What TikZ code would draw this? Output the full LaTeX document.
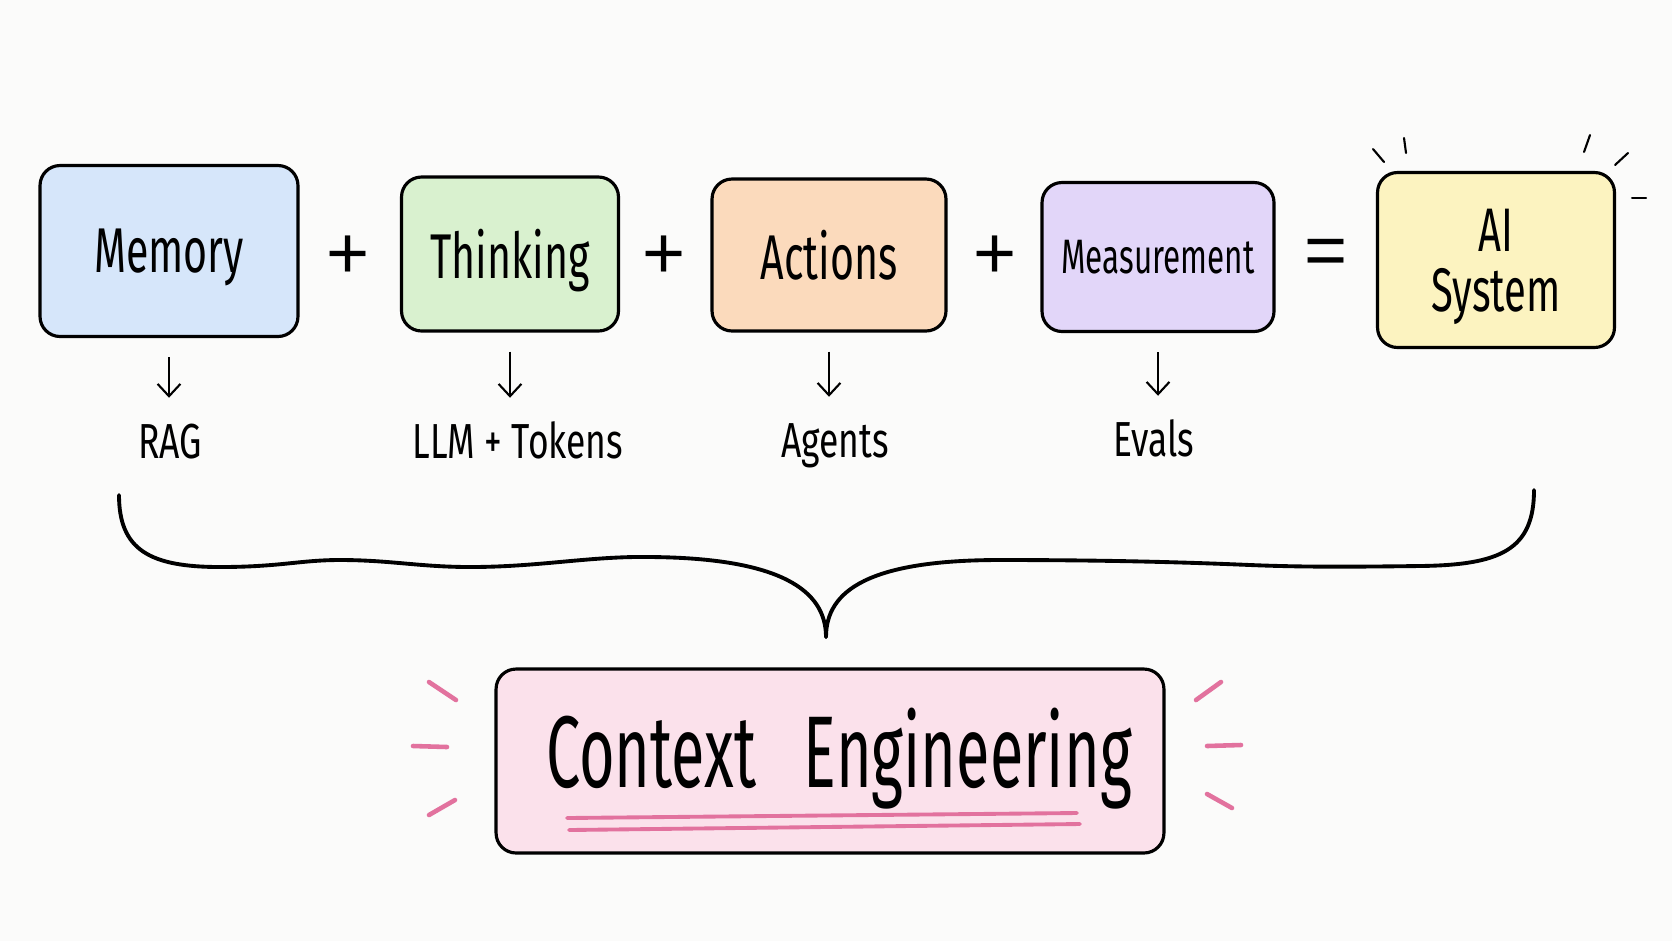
\documentclass[tikz,border=0pt]{standalone}
\usepackage{fontspec}
\setmainfont{Fira Sans}[FakeStretch=0.65]
\newfontfamily\signfont{Liberation Sans}
\usetikzlibrary{arrows.meta}

\definecolor{paper}{RGB}{251,251,250}
\definecolor{memfill}{RGB}{214,230,250}
\definecolor{thinkfill}{RGB}{217,241,207}
\definecolor{actfill}{RGB}{251,218,188}
\definecolor{measfill}{RGB}{226,214,249}
\definecolor{aifill}{RGB}{252,243,192}
\definecolor{ctxfill}{RGB}{251,225,235}
\definecolor{accent}{RGB}{226,114,158}

\tikzset{
  part/.style={draw=black, line width=1.8pt, rounded corners=0.4cm, inner sep=0pt, align=center, text depth=0pt},
  sign/.style={font=\signfont\fontsize{42}{42}\selectfont, inner sep=0pt},
  result/.style={font=\addfontfeature{FakeStretch=0.72}\fontsize{28}{28}\selectfont, text height=21pt, text depth=7pt, inner sep=0pt, anchor=base},
  flow/.style={line width=1.2pt, -{Straight Barb[length=7pt,width=13pt]}, shorten <=0.38cm, shorten >=0.46cm},
  spark/.style={line width=1.2pt, line cap=round},
  pinkspark/.style={draw=accent, line width=2.6pt, line cap=round},
}

\begin{document}
\begin{tikzpicture}[x=0.02cm, y=-0.02cm]
    \fill[paper] (0,0) rectangle (1672,941);

    % the parts
    \node[part, fill=memfill, minimum width=5.16cm, minimum height=3.42cm, font=\fontsize{36}{36}\selectfont] (memory) at (169,251) {Memory};
    \node[part, fill=thinkfill, minimum width=4.34cm, minimum height=3.08cm, font=\fontsize{36}{36}\selectfont] (thinking) at (510,254) {Thinking};
    \node[part, fill=actfill, minimum width=4.68cm, minimum height=3.04cm, font=\fontsize{36}{36}\selectfont] (actions) at (829,255) {Actions};
    \node[part, fill=measfill, minimum width=4.64cm, minimum height=2.98cm, font=\fontsize{27.5}{27.5}\selectfont] (measurement) at (1158,257) {Measurement};
    \node[part, fill=aifill, minimum width=4.74cm, minimum height=3.5cm, font=\fontsize{35}{34}\selectfont] (aisystem) at (1496,260) {AI\\System};

    \node[sign] (plusa) at (348,257) {+};
    \node[sign] (plusb) at (664,257) {+};
    \node[sign] (plusc) at (995,257) {+};
    \node[sign] (equals) at (1326,257) {=};

    % what each part is
    \node[result] (rag) at (170,458) {RAG};
    \node[result] (llm) at (518,458) {LLM + Tokens};
    \node[result] (agents) at (835,457) {Agents};
    \node[result] (evals) at (1154,456) {Evals};

    \draw[flow] (memory.south) -- (memory.south |- rag.north);
    \draw[flow] (thinking.south) -- (thinking.south |- llm.north);
    \draw[flow] (actions.south) -- (actions.south |- agents.north);
    \draw[flow] (measurement.south) -- (measurement.south |- evals.north);

    % glow round the AI system
    \draw[spark] (1373,149) -- (1384,162);
    \draw[spark] (1404,138) -- (1406,153);
    \draw[spark] (1590,135) -- (1584,152);
    \draw[spark] (1628,153) -- (1615,165);
    \draw[spark] (1632,198) -- (1646,198);

    % brace
    \draw[line width=2.2pt, line cap=round] (119,495) .. controls (119,550) and (150,567) .. (220,567)
        .. controls (280,567) and (300,560) .. (340,560)
        .. controls (390,560) and (420,567) .. (470,567)
        .. controls (540,567) and (590,556) .. (650,557)
        .. controls (780,558) and (826,590) .. (826,637);
    \draw[line width=2.2pt, line cap=round] (1534,490) .. controls (1534,550) and (1500,565) .. (1420,566)
        .. controls (1340,567) and (1300,567) .. (1250,565)
        .. controls (1180,562) and (1100,560) .. (1000,560)
        .. controls (870,560) and (826,590) .. (826,637);

    % context engineering
    \node[part, fill=ctxfill, minimum width=13.36cm, minimum height=3.68cm] (context) at (830,761) {};
    \node[font=\addfontfeature{FakeStretch=0.6}\fontsize{58}{58}\selectfont, inner sep=0pt, anchor=base] (contextlabel) at (839,787) {Context\hspace{0.95cm}Engineering};
    \draw[pinkspark, line width=2.2pt] (567,818) -- (1077,813);
    \draw[pinkspark, line width=2.2pt] (569,830) -- (1080,824);

    \draw[pinkspark] (429,682) -- (456,700);
    \draw[pinkspark] (413,746) -- (447,747);
    \draw[pinkspark] (429,815) -- (455,800);
    \draw[pinkspark] (1196,700) -- (1221,682);
    \draw[pinkspark] (1207,746) -- (1241,745);
    \draw[pinkspark] (1207,794) -- (1232,808);
\end{tikzpicture}
\end{document}
